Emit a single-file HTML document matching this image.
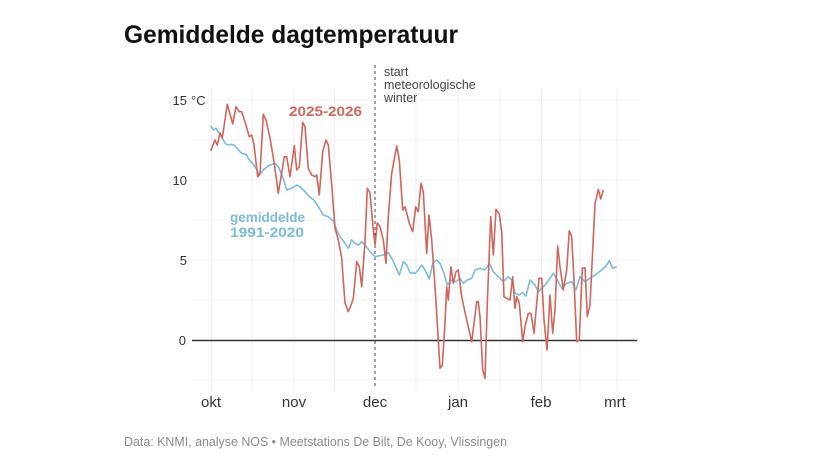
<!DOCTYPE html>
<html><head><meta charset="utf-8"><style>
html,body{margin:0;padding:0;background:#fff;}
svg{display:block;}
text{font-family:"Liberation Sans",sans-serif;}
</style></head><body>
<svg width="828" height="466" viewBox="0 0 828 466" xmlns="http://www.w3.org/2000/svg">
<rect width="828" height="466" fill="#fff"/>
<text x="124" y="43" font-size="25" font-weight="bold" fill="#111" textLength="334" lengthAdjust="spacingAndGlyphs">Gemiddelde dagtemperatuur</text>
<!-- grid -->
<g stroke="#efefef" stroke-width="1">
<line x1="192" y1="100" x2="640" y2="100"/><line x1="192" y1="140" x2="640" y2="140"/>
<line x1="192" y1="180" x2="640" y2="180"/><line x1="192" y1="220" x2="640" y2="220"/>
<line x1="192" y1="260" x2="640" y2="260"/><line x1="192" y1="300" x2="640" y2="300"/>
<line x1="192" y1="380" x2="640" y2="380"/>
<line x1="211.5" y1="88" x2="211.5" y2="392"/><line x1="252" y1="88" x2="252" y2="392"/>
<line x1="294" y1="88" x2="294" y2="392"/><line x1="334.5" y1="88" x2="334.5" y2="392"/>
<line x1="416" y1="88" x2="416" y2="392"/><line x1="458" y1="88" x2="458" y2="392"/>
<line x1="500" y1="88" x2="500" y2="392"/><line x1="541.5" y1="88" x2="541.5" y2="392"/>
<line x1="580" y1="88" x2="580" y2="392"/><line x1="617" y1="88" x2="617" y2="392"/>
</g>
<!-- y labels -->
<g font-size="13" fill="#333" text-anchor="end">
<text x="187" y="105">15</text><text x="187" y="185">10</text><text x="187" y="265">5</text><text x="186" y="345">0</text>
</g>
<text x="191" y="105" font-size="13" fill="#333">°C</text>
<!-- zero line -->
<line x1="192" y1="340.5" x2="637" y2="340.5" stroke="#333" stroke-width="1.5"/>
<!-- dashed -->
<line x1="375" y1="65" x2="375" y2="388" stroke="#444" stroke-width="1" stroke-dasharray="3,3"/>
<g font-size="12.5" fill="#444">
<text x="384" y="76">start</text><text x="384" y="89">meteorologische</text><text x="384" y="102">winter</text>
</g>
<!-- blue -->
<polyline fill="none" stroke="#7cbbdb" stroke-width="1.6" stroke-linejoin="round" points="210.7,125.7 213.3,130 216,128.3 219.3,133.3 221.7,136.7 225,143.3 228.3,145 231.7,144.3 235,145.7 238.3,150 241.7,153.3 246,154.3 249.3,160 252.7,163.3 256,168.3 259.3,175 263.3,170 268.3,165.7 275,163.3 278.3,166.7 282.7,176.7 286.7,190 291.7,188.3 296.7,185 300,186.7 305,191.7 309.3,196.7 314,200 318.3,206.7 323.3,215 328.3,216.7 333.3,221 336.7,230 340,236.7 345,243.3 348.3,248.3 351.7,240 355,243.3 358.3,245 361.7,241.7 365,245 370,251.7 375,256.7 378.3,256 383.3,255 388.3,252.7 391.7,258.3 395,265 399.3,275 403.3,261.7 406.7,265 410,272.7 415,273.3 418.3,270 421.7,265 425,270 429.3,279 432.7,263.3 436.7,260 440,263.3 444,273.3 447.3,285 451.7,280 456,281.7 460,278.3 463.3,283.3 467.3,280 471.7,278.3 475,270 480,268.3 485,270 489.3,263.3 493.3,271.7 500,278.3 503.3,281.7 508.3,276.7 511.7,280 515,293.3 519.3,295 522.7,292.7 526,296 530,280 535,285 538.3,291.7 541.7,288.3 545,285 550,278.3 553.3,273.3 557.3,280 561.7,288.3 566.7,283.3 571.7,281.7 576,290 580,276.7 585,281.7 590,278.3 595,275 601.7,270 606.7,265 609.3,260.7 612.7,268.3 616.7,266.7"/>
<!-- red -->
<polyline fill="none" stroke="#d0665b" stroke-width="1.6" stroke-linejoin="round" points="210.7,151 215,140 217.3,145 220,133 222.3,138 227.3,104.3 232.7,124 236,106.7 239.3,111.7 241.7,111.7 245,121.7 249.3,136.7 251.7,135 254,145 257.7,176.7 260,174 263.3,114.3 266,120 270,138 274,161.7 278.3,193.3 282.7,166.7 284.3,156.7 286.7,156.7 290,176.7 294.3,145.7 296.7,170 299.3,166.7 302.7,122.3 305,126.7 308.3,168.3 311.7,175 315,176.7 316.7,175 319.3,195 322.7,151.7 326,140 328.3,145 331.7,185 335,228 338.3,240 341.7,258 345,303 348.3,311.7 351.7,303.3 353.3,298.3 356.7,261.7 359.3,266.7 361.7,286.7 365,241.7 367.3,188.3 370,193 373.3,230 375,245 377.3,223 380,226.7 383.3,240 386,263.3 388.3,216.7 391.7,173.3 396.7,146 399.3,160 402.7,210 405,206.7 409.3,223.3 412.7,231.7 415.7,206.7 418.3,211.7 421,183.3 423.3,191.7 426.7,253.3 429,215 431.7,240 435,286.7 437.7,330 440,368.3 442.3,365 445,323.3 446.7,286.7 448.3,300 451,266.7 453.3,283.3 456,271.7 458.3,270 461.7,296.7 466.7,320 471.7,341.7 476.7,301.7 478.3,301.7 480,316.7 482.7,370 485,378.3 487.3,303.3 490.7,216.7 493.3,255 496,209.3 499.3,214 501.7,231.7 504,296.7 506.7,298.3 510,300 512.7,276.7 515,308.3 516.7,296.7 519.3,303.3 522.7,341.7 525,326.7 528.3,313.3 531,313.3 534,333.3 536.7,303.3 539,278.3 541.7,278.3 544,320 547,350 550,295 552.7,333.3 555,310 557.7,246 560,266.7 563.3,290 566.7,270 569.3,230.7 571.7,236.7 574,280 576.7,341.7 579.3,340 582.3,268.3 585,267.7 587.3,316.7 590,305 592.7,250 595,204 598.3,189.3 600.7,199 603.3,190"/>
<!-- series labels -->
<text x="289" y="116" font-size="13.5" font-weight="bold" fill="#d0665b" textLength="73" lengthAdjust="spacingAndGlyphs">2025-2026</text>
<text x="230" y="222" font-size="13.5" font-weight="bold" fill="#7cbbdb" textLength="75" lengthAdjust="spacingAndGlyphs">gemiddelde</text>
<text x="230" y="237" font-size="13.5" font-weight="bold" fill="#7cbbdb" textLength="74" lengthAdjust="spacingAndGlyphs">1991-2020</text>
<!-- x labels -->
<g font-size="15" fill="#333" text-anchor="middle">
<text x="211" y="407">okt</text><text x="294" y="407">nov</text><text x="375" y="407">dec</text>
<text x="458" y="407">jan</text><text x="541" y="407">feb</text><text x="615" y="407">mrt</text>
</g>
<text x="124" y="446" font-size="13" fill="#8a8a8a" textLength="383" lengthAdjust="spacingAndGlyphs">Data: KNMI, analyse NOS  •  Meetstations De Bilt, De Kooy, Vlissingen</text>
</svg>
</body></html>
